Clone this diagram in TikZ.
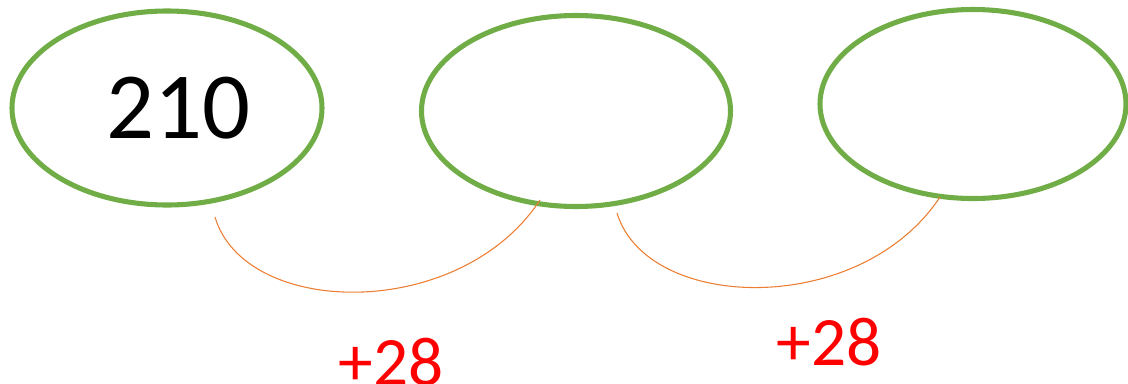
\documentclass[tikz,border=0pt]{standalone}
\usepackage{fontspec}
\setmainfont{Carlito}
\definecolor{ogreen}{RGB}{112,173,71}
\definecolor{oorange}{RGB}{237,125,49}
\tikzset{
  ovalline/.style={draw=ogreen, line width=3.8pt},
  hop/.style={draw=oorange, line width=0.8pt},
  lab/.style={text=red, font=\fontsize{52}{56}\selectfont, inner sep=0pt}
}
\usetikzlibrary{shapes.geometric}
\begin{document}
\begin{tikzpicture}[x=0.75pt,y=-0.75pt]
\useasboundingbox (0,0) rectangle (1128,383);
\draw[ovalline] (167,108) ellipse [x radius=155, y radius=97];
\node[inner sep=0pt, font=\fontsize{71}{76}\selectfont] (n1) at (178,108) {210};
\draw[ovalline] (576,111) ellipse [x radius=154.5, y radius=95.5];
\node[inner sep=0pt] (n2) at (576,111) {};
\draw[ovalline] (973,104) ellipse [x radius=153, y radius=94.5];
\node[inner sep=0pt] (n3) at (973,104) {};
\coordinate (a1) at (215,217);
\coordinate (b1) at (540,200);
\coordinate (a2) at (617,213);
\coordinate (b2) at (940,197);
\draw[hop] (a1) .. controls (245,318) and (460,322) .. (b1);
\draw[hop] (a2) .. controls (647,312) and (860,318) .. (b2);
\node[lab] (l1) at (391,362) {+28};
\node[lab] (l2) at (829,342) {+28};
\end{tikzpicture}
\end{document}
